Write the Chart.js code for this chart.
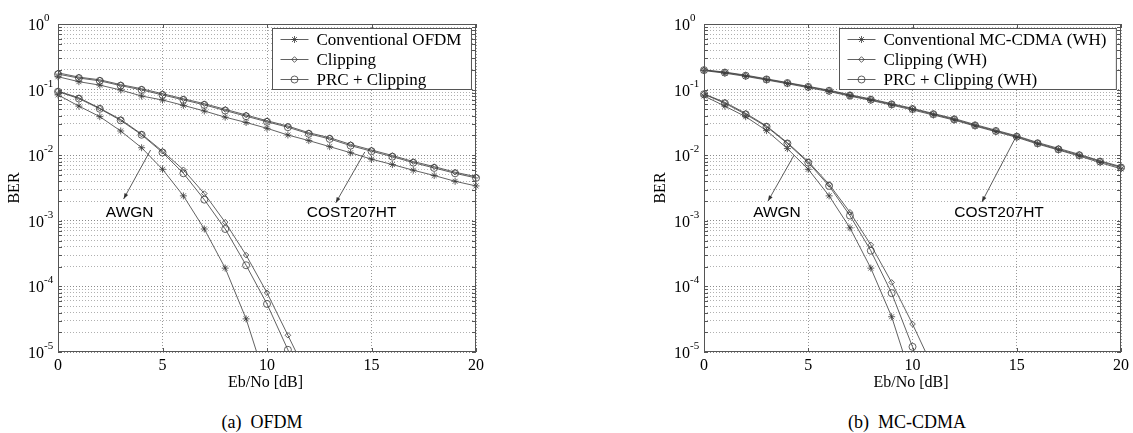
<!DOCTYPE html>
<html>
<head>
<meta charset="utf-8">
<script src="https://cdn.jsdelivr.net/npm/chart.js@4.4.1/dist/chart.umd.min.js"></script>
<style>
  body { margin: 0; background: #fff; width: 1133px; height: 433px; position: relative; overflow: hidden; }
  canvas { position: absolute; top: 0; }
  .cap { position: absolute; top: 412px; font: 18px 'Liberation Serif', serif; line-height: 20px; color: #000; white-space: pre; transform: translateX(-50%); }
</style>
</head>
<body>
<canvas id="ofdm" width="566" height="400" style="left:0"></canvas>
<canvas id="mccdma" width="567" height="400" style="left:566px"></canvas>
<div class="cap" style="left:262px">(a)  OFDM</div>
<div class="cap" style="left:907px">(b)  MC-CDMA</div>
<script>
// Eb/No [dB]
const ebno = [0,1,2,3,4,5,6,7,8,9,10,11,12,13,14,15,16,17,18,19,20];

// (a) OFDM
const costConvA = [0.157,0.132,0.117,0.0986,0.0798,0.0694,0.0575,0.0472,0.038,0.0315,0.0257,0.0203,0.0167,0.0135,0.0109,0.0087,0.0072,0.0059,0.0049,0.0040,0.0034];
const costClipA = [0.18,0.155,0.141,0.119,0.103,0.0865,0.0725,0.061,0.05,0.041,0.0335,0.0278,0.022,0.0185,0.0146,0.012,0.0099,0.008,0.0067,0.0055,0.0047];
const costPrcA  = [0.172,0.15,0.136,0.115,0.099,0.083,0.0698,0.0585,0.048,0.0393,0.0323,0.0267,0.0212,0.0177,0.014,0.0115,0.0095,0.0077,0.0064,0.0053,0.0045];
const awgnConvA = [0.083,0.056,0.0387,0.0234,0.013,0.0061,0.0024,0.00075,0.00019,3.2e-5,3.2e-6];
const awgnClipA = [0.095,0.075,0.052,0.035,0.021,0.0115,0.006,0.0026,0.00095,0.0003,8.0e-5,1.8e-5,4e-6];
const awgnPrcA  = [0.093,0.073,0.051,0.034,0.0205,0.011,0.0053,0.0021,0.00075,0.00021,5.4e-5,1.08e-5,1.8e-6];

// (b) MC-CDMA
const costConvB = [0.195,0.178,0.159,0.14,0.123,0.107,0.0935,0.0795,0.0685,0.058,0.049,0.041,0.0343,0.0278,0.0228,0.0187,0.0148,0.012,0.0097,0.0077,0.0062];
const costClipB = [0.2,0.185,0.166,0.146,0.128,0.112,0.098,0.0835,0.072,0.061,0.0518,0.0432,0.0362,0.0293,0.024,0.0197,0.0156,0.0127,0.0103,0.0082,0.0067];
const costPrcB  = [0.198,0.182,0.163,0.143,0.126,0.11,0.096,0.0815,0.0703,0.0596,0.0506,0.0422,0.0352,0.0285,0.0234,0.0192,0.0152,0.0123,0.01,0.008,0.0065];
const awgnConvB = [0.08,0.056,0.0386,0.0237,0.0126,0.0061,0.0024,0.00078,0.00019,3.45e-5,3.5e-6];
const awgnClipB = [0.086,0.064,0.0435,0.0279,0.0155,0.008,0.0036,0.00135,0.00043,0.000115,2.67e-5,5.6e-6];
const awgnPrcB  = [0.085,0.062,0.042,0.0272,0.0151,0.0077,0.0034,0.0012,0.00035,7.9e-5,1.2e-5,1.5e-6];

const legendA = ['Conventional OFDM', 'Clipping', 'PRC + Clipping'];
const legendB = ['Conventional MC-CDMA (WH)', 'Clipping (WH)', 'PRC + Clipping (WH)'];

const xTicks = [0, 5, 10, 15, 20];
const yExponents = [0, -1, -2, -3, -4, -5];

// arrows + labels, in data coordinates
const notesA = [
  {text: 'AWGN', from: [4.43, 0.012], to: [3.14, 0.00215], at: [3.43, 0.00131]},
  {text: 'COST207HT', from: [14.68, 0.0112], to: [13.29, 0.00188], at: [14.05, 0.00132]}
];
const notesB = [
  {text: 'AWGN', from: [4.32, 0.010], to: [3.07, 0.0020], at: [3.5, 0.00135]},
  {text: 'COST207HT', from: [14.96, 0.019], to: [13.33, 0.00194], at: [14.15, 0.00135]}
];

const LINE = '#3a3a3a';
const SERIF = "'Liberation Serif', 'Times New Roman', serif";
const SANS = "'Liberation Sans', Arial, sans-serif";

const marks = {
  conv: {pointStyle: 'star', pointRadius: 3.5},
  clip: {pointStyle: 'rectRot', pointRadius: 2.8},
  prc:  {pointStyle: 'circle', pointRadius: 3.5}
};

// grid positions on the log axis: 1..9 x 10^e
const yGrid = [];
for (let e = -5; e < 0; e++) for (let m = 1; m <= 9; m++) yGrid.push(m * Math.pow(10, e));
yGrid.push(1);

function isDecade(v) {
  const l = Math.log10(v);
  return Math.abs(l - Math.round(l)) < 1e-9;
}

function series(label, ys, kind) {
  return {
    label: label,
    data: ys.map((y, i) => ({x: ebno[i], y: y})),
    borderColor: LINE,
    borderWidth: 0.8,
    pointStyle: marks[kind].pointStyle,
    pointRadius: marks[kind].pointRadius,
    pointBorderColor: LINE,
    pointBorderWidth: 0.8,
    pointBackgroundColor: 'rgba(0,0,0,0)',
    pointHoverRadius: marks[kind].pointRadius,
    tension: 0,
    kind: kind,
    clip: {left: 6, right: 6, top: 6, bottom: 0}
  };
}

function drawMark(ctx, kind, x, y) {
  ctx.save();
  ctx.strokeStyle = LINE;
  ctx.fillStyle = 'rgba(0,0,0,0)';
  ctx.lineWidth = 0.8;
  Chart.helpers.drawPoint(ctx, {pointStyle: marks[kind].pointStyle, radius: marks[kind].pointRadius, borderWidth: 0.8, rotation: 0}, x, y);
  ctx.restore();
}

const deco = {
  id: 'deco',
  afterDatasetsDraw(chart, args, opts) {
    const ctx = chart.ctx;
    const a = chart.chartArea;
    const x = chart.scales.x, y = chart.scales.y;
    ctx.save();

    // frame and inside ticks
    ctx.strokeStyle = '#555';
    ctx.lineWidth = 1;
    ctx.beginPath();
    y.ticks.forEach(t => {
      const py = Math.round(y.getPixelForValue(t.value)) + 0.5;
      ctx.moveTo(a.left, py); ctx.lineTo(a.left + 4, py);
      ctx.moveTo(a.right, py); ctx.lineTo(a.right - 4, py);
    });
    xTicks.forEach(v => {
      const px = Math.round(x.getPixelForValue(v)) + 0.5;
      ctx.moveTo(px, a.bottom); ctx.lineTo(px, a.bottom - 4);
      ctx.moveTo(px, a.top); ctx.lineTo(px, a.top + 4);
    });
    ctx.stroke();
    ctx.strokeRect(a.left + 0.5, a.top + 0.5, a.right - a.left - 1, a.bottom - a.top - 1);

    // annotations
    ctx.strokeStyle = '#333';
    ctx.fillStyle = '#333';
    ctx.lineWidth = 0.8;
    opts.notes.forEach(n => {
      const x1 = x.getPixelForValue(n.from[0]), y1 = y.getPixelForValue(n.from[1]);
      const x2 = x.getPixelForValue(n.to[0]), y2 = y.getPixelForValue(n.to[1]);
      ctx.beginPath(); ctx.moveTo(x1, y1); ctx.lineTo(x2, y2); ctx.stroke();
      const ang = Math.atan2(y2 - y1, x2 - x1);
      ctx.beginPath();
      ctx.moveTo(x2, y2);
      ctx.lineTo(x2 - 6 * Math.cos(ang - 0.35), y2 - 6 * Math.sin(ang - 0.35));
      ctx.lineTo(x2 - 6 * Math.cos(ang + 0.35), y2 - 6 * Math.sin(ang + 0.35));
      ctx.closePath(); ctx.fill();
      ctx.fillStyle = '#000';
      ctx.font = '15.5px ' + SANS;
      ctx.textAlign = 'center';
      ctx.textBaseline = 'middle';
      ctx.fillText(n.text, x.getPixelForValue(n.at[0]), y.getPixelForValue(n.at[1]));
      ctx.fillStyle = '#333';
    });

    // legend
    ctx.font = '17px ' + SERIF;
    const tw = Math.max(...opts.legend.map(s => ctx.measureText(s).width));
    const bw = 44 + tw + 10, bh = 61;
    const bx = Math.round(a.right - 5 - bw) + 0.5, by = a.top + 4.5;
    ctx.fillStyle = '#fff';
    ctx.fillRect(bx, by, bw, bh);
    ctx.strokeStyle = '#555';
    ctx.lineWidth = 1;
    ctx.strokeRect(bx, by, bw, bh);
    const kinds = ['conv', 'clip', 'prc'];
    opts.legend.forEach((s, i) => {
      const ry = by + 11 + i * 20;
      ctx.strokeStyle = LINE; ctx.lineWidth = 0.8;
      ctx.beginPath(); ctx.moveTo(bx + 8, ry); ctx.lineTo(bx + 36, ry); ctx.stroke();
      drawMark(ctx, kinds[i], bx + 22, ry);
      ctx.fillStyle = '#000';
      ctx.textAlign = 'left';
      ctx.textBaseline = 'middle';
      ctx.fillText(s, bx + 44, ry + 1);
    });

    // y tick labels 10^e
    ctx.fillStyle = '#000';
    yExponents.forEach(e => {
      const py = y.getPixelForValue(Math.pow(10, e));
      ctx.font = '16px ' + SERIF;
      ctx.textAlign = 'right';
      ctx.textBaseline = 'alphabetic';
      ctx.fillText('10', a.left - 14, py + 6);
      ctx.font = '11px ' + SERIF;
      ctx.textAlign = 'left';
      ctx.fillText(String(e), a.left - 14, py - 3);
    });

    // axis titles
    ctx.font = '16px ' + SERIF;
    ctx.textAlign = 'center';
    ctx.textBaseline = 'middle';
    ctx.fillText('Eb/No [dB]', (a.left + a.right) / 2 - 1.5, 383);
    ctx.save();
    ctx.translate(a.left - 43, (a.top + a.bottom) / 2);
    ctx.rotate(-Math.PI / 2);
    ctx.fillText('BER', 0, 0);
    ctx.restore();

    ctx.restore();
  }
};

function makeChart(id, sets, legend, notes, padLeft, padRight) {
  return new Chart(document.getElementById(id), {
    type: 'line',
    data: {
      datasets: [
        series(legend[0], sets[0], 'conv'),
        series(legend[1], sets[1], 'clip'),
        series(legend[2], sets[2], 'prc'),
        series('AWGN ' + legend[0], sets[3], 'conv'),
        series('AWGN ' + legend[1], sets[4], 'clip'),
        series('AWGN ' + legend[2], sets[5], 'prc')
      ]
    },
    options: {
      responsive: false,
      animation: false,
      events: [],
      layout: {padding: {left: padLeft, right: padRight, top: 24, bottom: 0}},
      plugins: {
        legend: {display: false},
        tooltip: {enabled: false},
        deco: {legend: legend, notes: notes}
      },
      scales: {
        x: {
          type: 'linear',
          min: 0, max: 20,
          afterBuildTicks: s => { s.ticks = xTicks.map(v => ({value: v})); },
          afterFit: s => { s.height = 48; s.paddingLeft = 0; s.paddingRight = 0; },
          ticks: {color: '#000', font: {family: SERIF, size: 16}, padding: 4, maxRotation: 0},
          grid: {color: '#9a9a9a', lineWidth: 1, drawTicks: false},
          border: {display: false, dash: [1, 2]}
        },
        y: {
          type: 'logarithmic',
          min: 1e-5, max: 1,
          afterBuildTicks: s => { s.ticks = yGrid.map(v => ({value: v})); },
          afterFit: s => { s.width = 58; s.paddingTop = 0; s.paddingBottom = 0; },
          ticks: {display: false},
          grid: {
            color: c => (c.tick && isDecade(c.tick.value)) ? '#8a8a8a' : '#b0b0b0',
            lineWidth: 1,
            drawTicks: false
          },
          border: {display: false, dash: [1, 2]}
        }
      }
    },
    plugins: [deco]
  });
}

makeChart('ofdm', [costConvA, costClipA, costPrcA, awgnConvA, awgnClipA, awgnPrcA], legendA, notesA, 0, 90);
makeChart('mccdma', [costConvB, costClipB, costPrcB, awgnConvB, awgnClipB, awgnPrcB], legendB, notesB, 80, 12);
</script>
</body>
</html>
